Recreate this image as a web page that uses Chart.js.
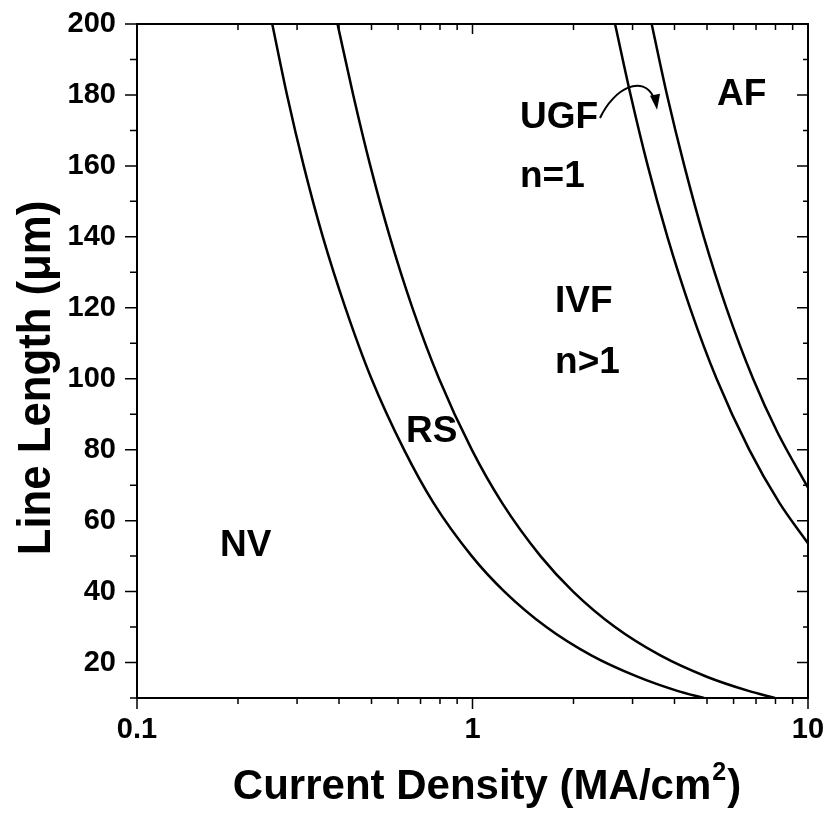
<!DOCTYPE html>
<html>
<head>
<meta charset="utf-8">
<script src="https://cdn.jsdelivr.net/npm/chart.js@4.4.1/dist/chart.umd.min.js"></script>
<style>
  html, body { margin: 0; padding: 0; background: #fff; }
  #wrap { width: 826px; height: 819px; }
</style>
</head>
<body>
<div id="wrap"><canvas id="chart" width="826" height="819"></canvas></div>
<script>
// Failure-mode boundaries: current density (MA/cm2) vs line length (um)
// NV / RS boundary
const nvRsJ = [0.253, 0.280, 0.314, 0.358, 0.418, 0.500, 0.625, 0.765, 0.995, 1.245, 1.66, 2.26, 3.1, 4.08, 4.9];
const nvRsL = [200, 180, 160, 140, 120, 100, 80, 65, 50, 40, 30, 22, 16, 12, 10];
// RS / IVF boundary
const rsIvfJ = [0.396, 0.441, 0.496, 0.567, 0.662, 0.795, 0.995, 1.225, 1.595, 1.995, 2.66, 3.63, 4.99, 6.65, 7.97];
const rsIvfL = [200, 180, 160, 140, 120, 100, 80, 65, 50, 40, 30, 22, 16, 12, 10];
// IVF / UGF boundary
const ivfUgfJ = [2.66, 2.96, 3.33, 3.81, 4.45, 5.34, 6.68, 8.22, 10];
const ivfUgfL = [200, 180, 160, 140, 120, 100, 80, 65, 53.6];
// UGF / AF boundary
const ugfAfJ = [3.42, 3.80, 4.28, 4.89, 5.71, 6.86, 8.1, 10];
const ugfAfL = [200, 180, 160, 140, 120, 100, 85, 69.3];

// axis ticks
const xMajorTicks = [0.1, 1, 10];
const xMinorTicks = [0.2, 0.3, 0.4, 0.5, 0.6, 0.7, 0.8, 0.9, 2, 3, 4, 5, 6, 7, 8, 9];
const yMajorTicks = [20, 40, 60, 80, 100, 120, 140, 160, 180, 200];
const yMinorTicks = [10, 30, 50, 70, 90, 110, 130, 150, 170, 190];

// region names, anchored (left, baseline) in data units
const regionText = ['NV', 'RS', 'UGF', 'n=1', 'IVF', 'n>1', 'AF'];
const regionJ = [0.1768, 0.6335, 1.385, 1.385, 1.762, 1.762, 5.355];
const regionL = [50.1, 82.3, 170.6, 154.0, 118.9, 101.6, 177.1];

const FONT = '"Liberation Sans", Arial, Helvetica, sans-serif';

function toPoints(xs, ys) {
    return xs.map((v, i) => ({ x: v, y: ys[i] }));
}

function boundary(xs, ys) {
    return {
        data: toPoints(xs, ys),
        showLine: true,
        borderColor: '#000',
        borderWidth: 2.5,
        pointRadius: 0,
        cubicInterpolationMode: 'monotone',
        fill: false
    };
}

// keep the plot box where the layout padding puts it
function noOverhang(scale) {
    scale.paddingLeft = 0;
    scale.paddingRight = 0;
    scale.paddingTop = 0;
    scale.paddingBottom = 0;
}

// frame, tick marks, region labels, arrow and axis titles
const framePlugin = {
    id: 'frame',
    afterDraw(chart) {
        const { ctx, chartArea: a, scales: { x, y } } = chart;
        ctx.save();
        ctx.strokeStyle = '#000';
        ctx.fillStyle = '#000';

        ctx.lineWidth = 2;
        ctx.strokeRect(a.left, a.top, a.right - a.left, a.bottom - a.top);

        ctx.lineWidth = 1.5;
        ctx.beginPath();
        const xTick = (v, outLen, inLen) => {
            const px = x.getPixelForValue(v);
            ctx.moveTo(px, a.bottom);
            ctx.lineTo(px, a.bottom + outLen);
            ctx.moveTo(px, a.top);
            ctx.lineTo(px, a.top + inLen);
        };
        const yTick = (v, outLen, inLen) => {
            const py = y.getPixelForValue(v);
            ctx.moveTo(a.left, py);
            ctx.lineTo(a.left - outLen, py);
            ctx.moveTo(a.right, py);
            ctx.lineTo(a.right - inLen, py);
        };
        xMajorTicks.forEach(v => xTick(v, 11, 10));
        xMinorTicks.forEach(v => xTick(v, 6, 6));
        yMajorTicks.forEach(v => yTick(v, 12, 11));
        yMinorTicks.forEach(v => yTick(v, 7, 5));
        ctx.stroke();

        // region names
        ctx.font = 'bold 37px ' + FONT;
        ctx.textAlign = 'left';
        ctx.textBaseline = 'alphabetic';
        regionText.forEach((t, i) => {
            ctx.fillText(t, x.getPixelForValue(regionJ[i]), y.getPixelForValue(regionL[i]));
        });

        // curved arrow from UGF across the boundary
        const sx = x.getPixelForValue(2.399), sy = y.getPixelForValue(173.5);
        const tx = x.getPixelForValue(3.548), ty = y.getPixelForValue(175.8);
        ctx.lineWidth = 2;
        ctx.beginPath();
        ctx.moveTo(sx, sy);
        ctx.bezierCurveTo(sx + 14, sy - 30, tx - 14, ty - 36, tx - 3, ty - 12);
        ctx.stroke();
        ctx.beginPath();
        ctx.moveTo(tx, ty);
        ctx.lineTo(tx - 7, ty - 14);
        ctx.lineTo(tx + 3, ty - 16);
        ctx.closePath();
        ctx.fill();

        // x title with superscript
        const head = 'Current Density (MA/cm';
        const tail = ')';
        ctx.font = 'bold 42px ' + FONT;
        const wHead = ctx.measureText(head).width;
        const wTail = ctx.measureText(tail).width;
        ctx.font = 'bold 25px ' + FONT;
        const wSup = ctx.measureText('2').width;
        const total = wHead + wSup + wTail;
        let cx = 486 - total / 2;
        const base = 799;
        ctx.font = 'bold 42px ' + FONT;
        ctx.fillText(head, cx, base);
        cx += wHead;
        ctx.font = 'bold 25px ' + FONT;
        ctx.fillText('2', cx + 1, base - 19);
        cx += wSup + 2;
        ctx.font = 'bold 42px ' + FONT;
        ctx.fillText(tail, cx, base);

        // y title, slightly condensed
        ctx.translate(50, 378);
        ctx.rotate(-Math.PI / 2);
        ctx.scale(0.93, 1);
        ctx.textAlign = 'center';
        ctx.font = 'bold 47px ' + FONT;
        ctx.fillText('Line Length (\u03bcm)', 0, 0);
        ctx.restore();
    }
};

const chart = new Chart(document.getElementById('chart'), {
    type: 'scatter',
    data: {
        datasets: [
            boundary(nvRsJ, nvRsL),
            boundary(rsIvfJ, rsIvfL),
            boundary(ivfUgfJ, ivfUgfL),
            boundary(ugfAfJ, ugfAfL)
        ]
    },
    options: {
        responsive: false,
        animation: false,
        layout: { padding: { top: 24, right: 18, bottom: 0, left: 0 } },
        plugins: {
            legend: { display: false },
            tooltip: { enabled: false }
        },
        scales: {
            x: {
                type: 'logarithmic',
                min: 0.1,
                max: 10,
                grid: { display: false },
                border: { display: false },
                afterBuildTicks: scale => {
                    scale.ticks = xMajorTicks.map(v => ({ value: v, major: true }));
                },
                afterFit: scale => {
                    scale.height = 121;
                    noOverhang(scale);
                },
                ticks: {
                    autoSkip: false,
                    maxRotation: 0,
                    padding: 7,
                    color: '#000',
                    font: { family: FONT, size: 29, weight: 'bold' },
                    callback: v => String(v)
                }
            },
            y: {
                type: 'linear',
                min: 10,
                max: 200,
                grid: { display: false },
                border: { display: false },
                afterBuildTicks: scale => {
                    scale.ticks = yMajorTicks.map(v => ({ value: v }));
                },
                afterFit: scale => {
                    scale.width = 137;
                    noOverhang(scale);
                },
                ticks: {
                    autoSkip: false,
                    padding: 13,
                    color: '#000',
                    font: { family: FONT, size: 29, weight: 'bold' },
                    callback: v => String(v)
                }
            }
        }
    },
    plugins: [framePlugin]
});
</script>
</body>
</html>
